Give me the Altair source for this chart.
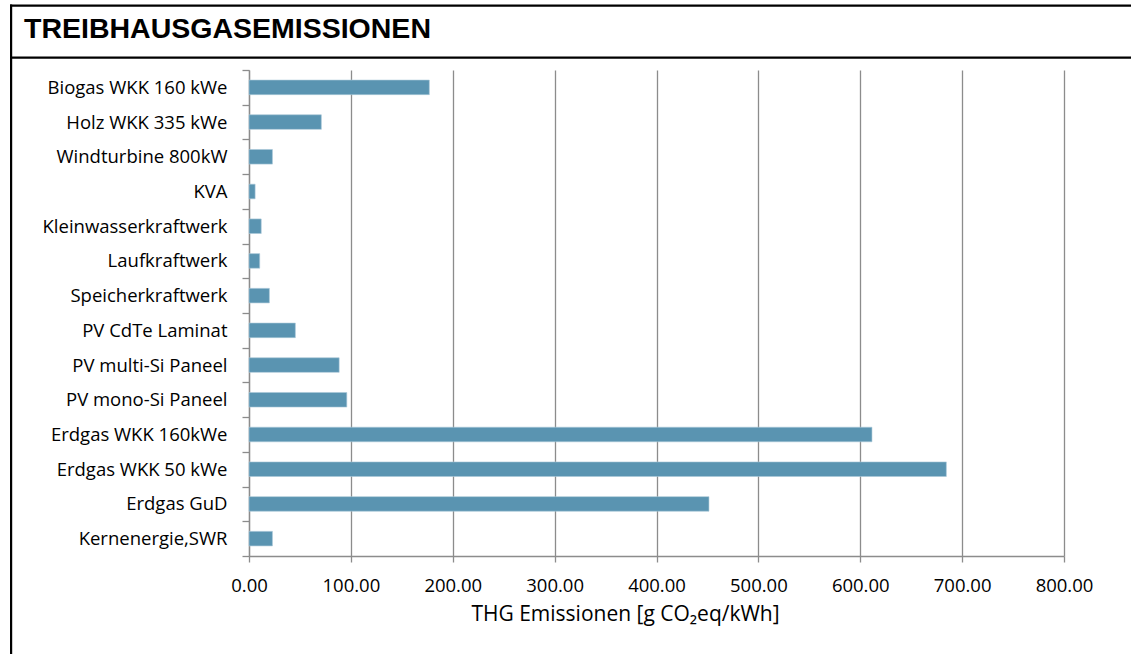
import altair as alt
import pandas as pd

# Greenhouse-gas emissions per technology, g CO2eq per kWh
categories = [
    "Biogas WKK 160 kWe",
    "Holz WKK 335 kWe",
    "Windturbine 800kW",
    "KVA",
    "Kleinwasserkraftwerk",
    "Laufkraftwerk",
    "Speicherkraftwerk",
    "PV CdTe Laminat ",
    "PV multi-Si Paneel ",
    "PV mono-Si Paneel ",
    "Erdgas WKK 160kWe",
    "Erdgas WKK 50 kWe",
    "Erdgas GuD",
    "Kernenergie,SWR",
]
emissions = [177, 71, 23, 6, 12, 10.5, 20, 45.5, 88.5, 96, 611.5, 684.5, 451.5, 23]
x_ticks = [0, 100, 200, 300, 400, 500, 600, 700, 800]

chart_title = "TREIBHAUSGASEMISSIONEN"
x_title = "THG Emissionen [g CO\u2082eq/kWh]"

df = pd.DataFrame({"tech": categories, "value": emissions})

W, H = 815, 486
PAD_L, PAD_T = 249, 70
GRID = "#8c8c8c"
LABEL_FONT = "Open Sans"

bars = (
    alt.Chart(df)
    .mark_bar(
        color="#5a94b1",
        stroke="#a9c8d8",
        strokeWidth=0.6,
        height=alt.RelativeBandSize(band=0.42),
    )
    .encode(
        x=alt.X(
            "value:Q",
            scale=alt.Scale(domain=[0, 800], nice=False, zero=True),
            axis=alt.Axis(
                values=x_ticks,
                format=".2f",
                title=x_title,
                grid=True,
                gridColor=GRID,
                gridWidth=1.3,
                domainColor=GRID,
                domainWidth=1.3,
                tickColor=GRID,
                tickWidth=1.3,
                tickSize=6,
                labelFlush=False,
                labelOverlap=False,
                labelFont=LABEL_FONT,
                labelFontSize=18.5,
                labelColor="#000000",
                labelPadding=14,
                titleFont=LABEL_FONT,
                titleFontSize=21,
                titleFontWeight="normal",
                titleColor="#000000",
                titleX=376,
                titleY=64,
                titleAlign="center",
                titleBaseline="alphabetic",
            ),
        ),
        y=alt.Y(
            "tech:N",
            sort=categories,
            scale=alt.Scale(paddingInner=0, paddingOuter=0),
            axis=alt.Axis(
                title=None,
                grid=False,
                tickBand="extent",
                domainColor=GRID,
                domainWidth=1.3,
                tickColor=GRID,
                tickWidth=1.3,
                tickSize=7,
                labelFont=LABEL_FONT,
                labelFontSize=18.5,
                labelColor="#000000",
                labelPadding=15,
                labelLimit=400,
            ),
        ),
    )
)

# Frame around the whole figure and the line under the heading band,
# drawn as thin filled strips
frame_src = alt.Data(values=[{"k": 0}])
strip = dict(color="#000000", strokeWidth=0)
left_edge = alt.Chart(frame_src).mark_rect(**strip).encode(
    x=alt.value(10 - PAD_L), x2=alt.value(12.2 - PAD_L),
    y=alt.value(4.5 - PAD_T), y2=alt.value(660 - PAD_T),
)
top_edge = alt.Chart(frame_src).mark_rect(**strip).encode(
    x=alt.value(10 - PAD_L), x2=alt.value(1131 - PAD_L),
    y=alt.value(4.5 - PAD_T), y2=alt.value(6.7 - PAD_T),
)
head_line = alt.Chart(frame_src).mark_rect(**strip).encode(
    x=alt.value(10 - PAD_L), x2=alt.value(1131 - PAD_L),
    y=alt.value(56.5 - PAD_T), y2=alt.value(58.7 - PAD_T),
)

heading = alt.Chart(alt.Data(values=[{"t": chart_title}])).mark_text(
    align="left",
    baseline="alphabetic",
    font="Liberation Sans",
    fontSize=28.5,
    fontWeight="bold",
    color="#000000",
).encode(text="t:N", x=alt.value(24 - PAD_L), y=alt.value(38 - PAD_T))

chart = (
    alt.layer(bars, left_edge, top_edge, head_line, heading)
    .properties(
        width=W,
        height=H,
        padding={"left": PAD_L, "top": PAD_T, "right": 1131 - PAD_L - W, "bottom": 654 - PAD_T - H},
        autosize="none",
    )
    .configure(background="white")
    .configure_view(stroke=None)
)

chart.save("out.html", embed_options={"renderer": "svg", "actions": False})
